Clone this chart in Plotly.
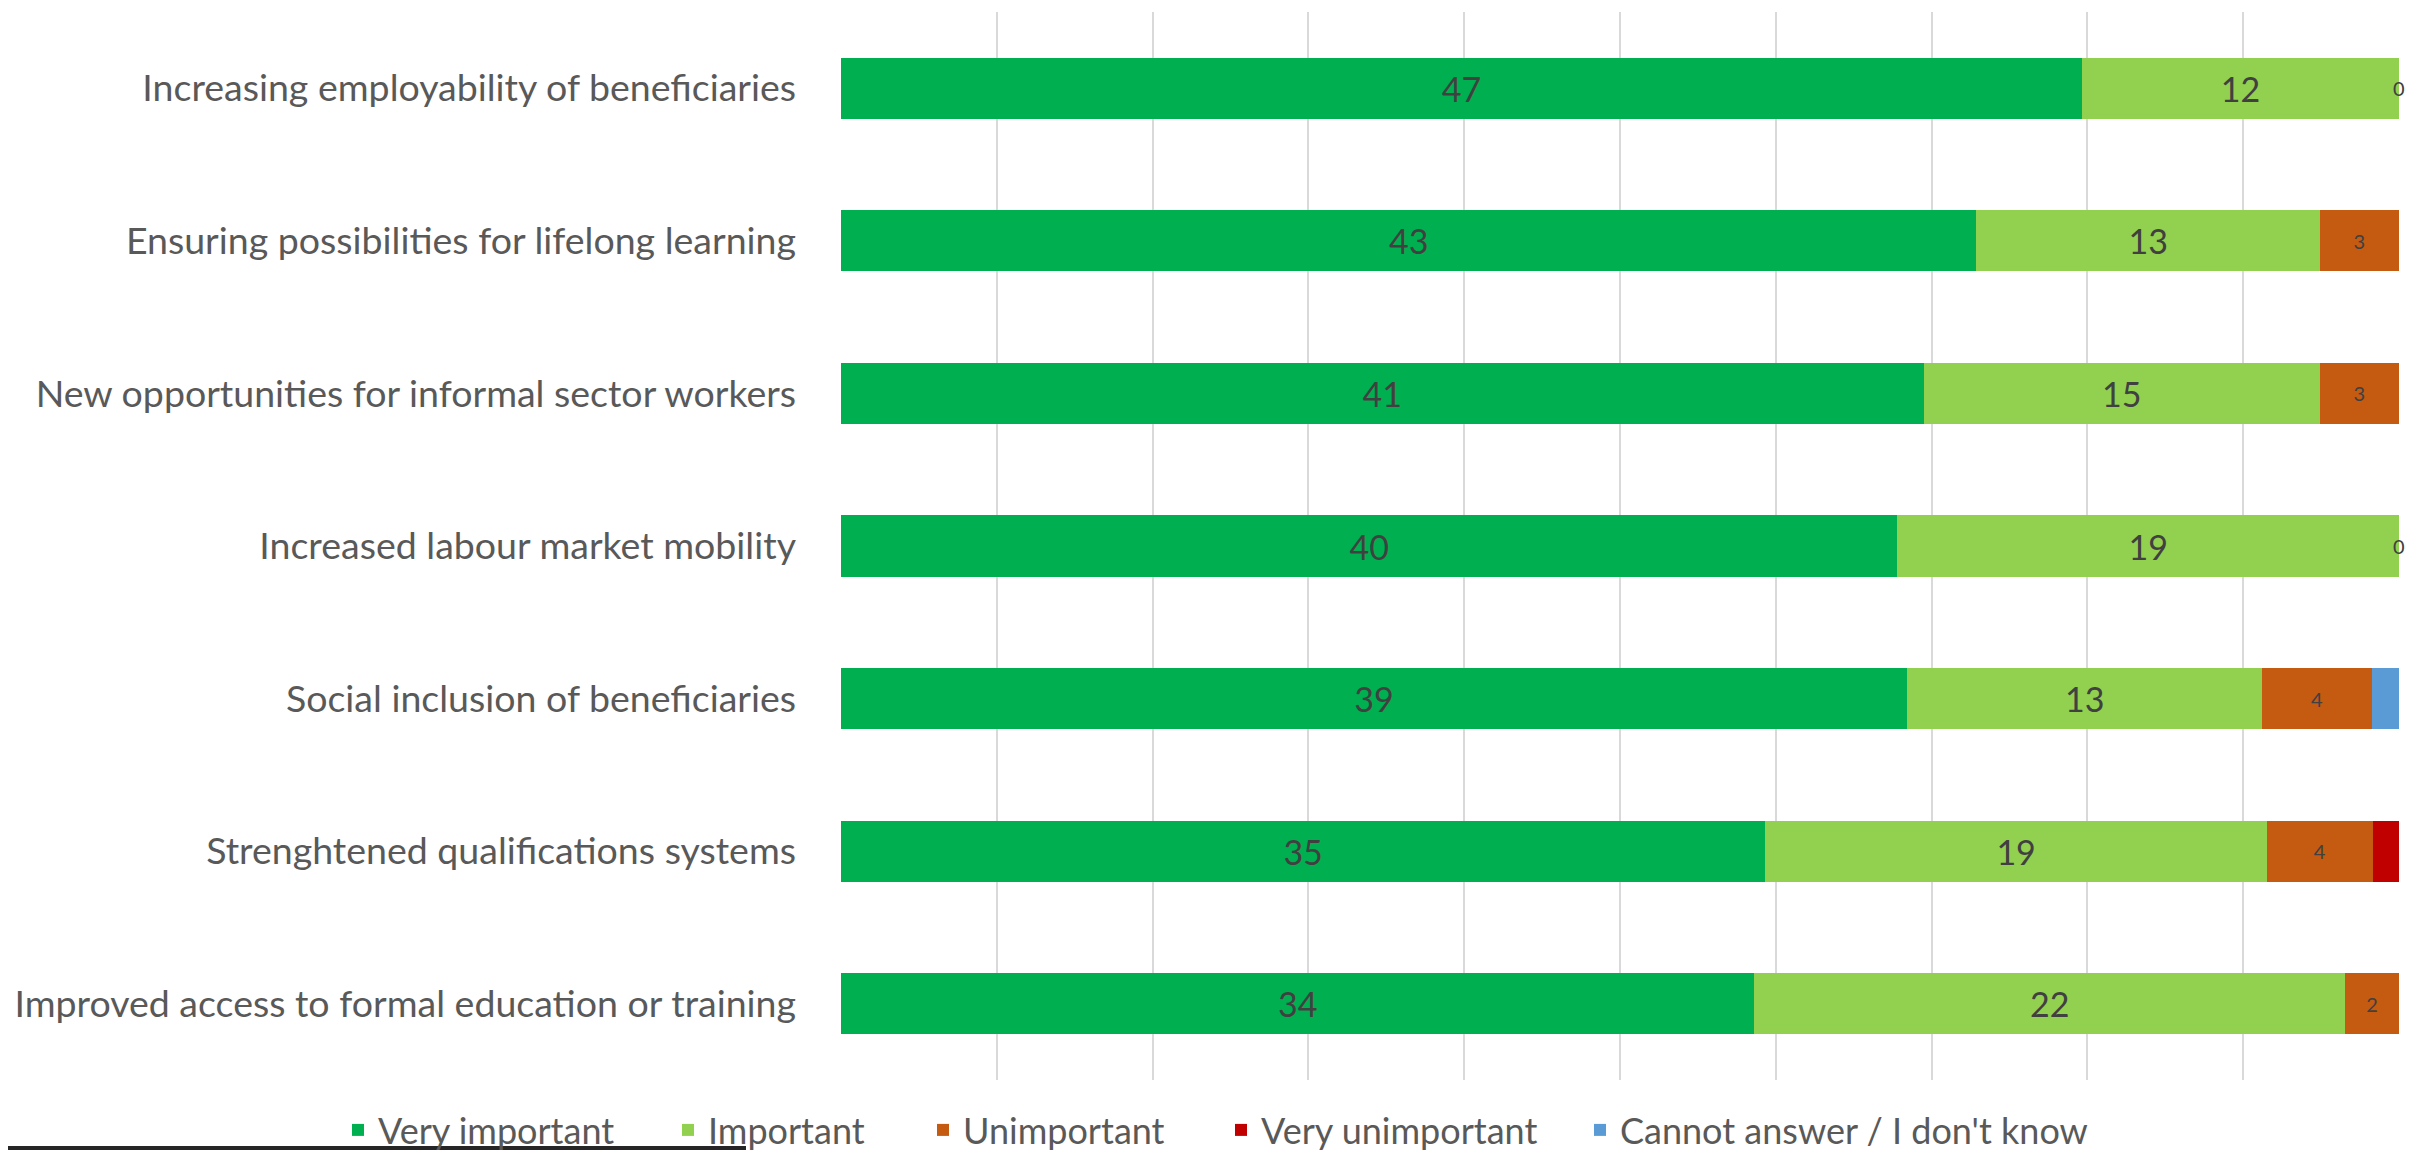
import plotly.graph_objects as go

categories = [
    "Increasing employability of beneficiaries",
    "Ensuring possibilities for lifelong learning",
    "New opportunities for informal sector workers",
    "Increased labour market mobility",
    "Social inclusion of beneficiaries",
    "Strenghtened qualifications systems",
    "Improved access to formal education or training",
]
series_names = ["Very important", "Important", "Unimportant", "Very unimportant",
                "Cannot answer / I don't know"]
very_important = [47, 43, 41, 40, 39, 35, 34]
important = [12, 13, 15, 19, 13, 19, 22]
unimportant = [0, 3, 3, 0, 4, 4, 2]
very_unimportant = [0, 0, 0, 0, 0, 1, 0]
cannot_answer = [0, 0, 0, 0, 1, 0, 0]
series_values = [very_important, important, unimportant, very_unimportant, cannot_answer]
show_labels = [True, True, True, False, False]
colors = ["#00B050", "#92D050", "#C55A11", "#C00000", "#5B9BD5"]

FONT = "Lato, Roboto, sans-serif"
totals = [sum(s[i] for s in series_values) for i in range(len(categories))]

W, H = 2412, 1146          # page body has an 8px margin in the browser
L, R, T, B = 833, 21, 4, 74
PH = H - T - B
PW = W - L - R

# legend entry left edges (px, figure coordinates)
legend_left_px = [330, 660, 915, 1213, 1572]
legend_ids = ["legend", "legend2", "legend3", "legend4", "legend5"]

fig = go.Figure()
for k, (name, vals, col, lab) in enumerate(zip(series_names, series_values, colors, show_labels)):
    pct = [v / t * 100 for v, t in zip(vals, totals)]
    texts = [str(v) if (lab and v > 0) else "" for v in vals]
    sizes = [34 if v >= 10 else 20 for v in vals]
    fig.add_trace(go.Bar(
        name=name, y=categories, x=pct, orientation="h", legend=legend_ids[k],
        showlegend=True,
        marker=dict(color=col, line=dict(width=0)),
        text=texts, textposition="inside", insidetextanchor="middle",
        textangle=0, constraintext="none",
        textfont=dict(family=FONT, size=sizes, color="#404040"),
        hoverinfo="skip",
    ))

# zero-value labels for the "Unimportant" series at the end of the stack
annotations = []
for i, cat in enumerate(categories):
    if unimportant[i] == 0:
        cum = very_important[i] + important[i] + unimportant[i]
        annotations.append(dict(x=cum / totals[i] * 100, y=cat, xref="x", yref="y",
                                text=str(unimportant[i]), showarrow=False,
                                xanchor="center", yanchor="middle",
                                font=dict(family=FONT, size=20, color="#404040")))

legend_y = (H - B - 1122) / PH
legends = {}
for lid, px in zip(legend_ids, legend_left_px):
    legends[lid] = dict(orientation="h", x=px / W, xanchor="left", xref="container",
                        y=legend_y, yanchor="middle", bgcolor="rgba(0,0,0,0)",
                        font=dict(family=FONT, size=36, color="#595959"),
                        itemwidth=30, itemclick=False, itemdoubleclick=False)

line_y = (H - B - 1140) / PH
fig.update_layout(
    width=W, height=H, showlegend=True,
    barmode="stack", bargap=0.60,
    plot_bgcolor="white", paper_bgcolor="white",
    margin=dict(l=L, r=R, t=T, b=B, autoexpand=False),
    font=dict(family=FONT, color="#595959"),
    annotations=annotations,
    shapes=[dict(type="line", xref="paper", yref="paper",
                 x0=(0 - L) / PW, x1=(738 - L) / PW,
                 y0=line_y, y1=line_y,
                 line=dict(color="#262626", width=4), layer="above")],
    **legends,
)
fig.update_xaxes(range=[0, 100], dtick=10, showgrid=True, gridcolor="#D9D9D9",
                 gridwidth=2, showticklabels=False, zeroline=False, showline=False,
                 fixedrange=True)
fig.update_yaxes(categoryorder="array", categoryarray=categories[::-1],
                 showgrid=False, ticks="", ticklabelstandoff=44,
                 tickfont=dict(family=FONT, size=37.5, color="#595959"),
                 showline=False, zeroline=False, fixedrange=True)

fig.write_html("out.html")
